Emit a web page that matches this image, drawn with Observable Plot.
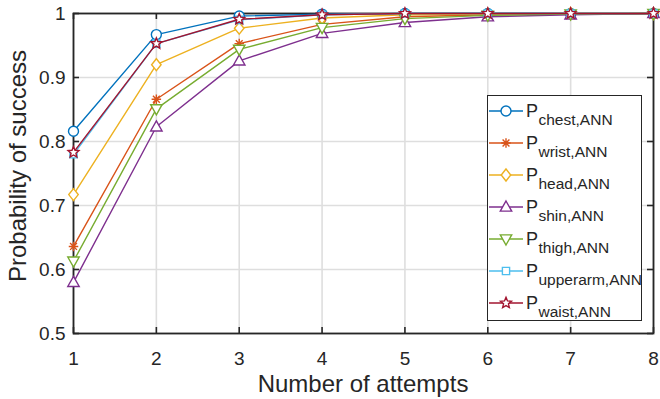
<!DOCTYPE html>
<html>
<head>
<meta charset="utf-8">
<script src="https://cdn.jsdelivr.net/npm/d3@7"></script>
<script src="https://cdn.jsdelivr.net/npm/@observablehq/plot@0.6"></script>
<style>
  body { margin: 0; background: #fff; }
  #wrap { position: relative; width: 660px; height: 399px; font-family: "Liberation Sans", Arial, Helvetica, sans-serif; }
  #legend { position: absolute; left: 0; top: 0; pointer-events: none; }
</style>
</head>
<body>
<div id="wrap"></div>
<script>
// ---- data ----
const attempts = [1, 2, 3, 4, 5, 6, 7, 8];
const chest    = [0.816, 0.967, 0.996, 0.999, 1.000, 1.000, 1.000, 1.000];
const wrist    = [0.636, 0.866, 0.953, 0.983, 0.995, 0.998, 0.999, 1.000];
const head     = [0.717, 0.920, 0.977, 0.993, 0.998, 0.999, 1.000, 1.000];
const shin     = [0.580, 0.823, 0.926, 0.969, 0.986, 0.995, 0.998, 1.000];
const thigh    = [0.613, 0.851, 0.944, 0.978, 0.992, 0.997, 0.999, 1.000];
const upperarm = [0.780, 0.953, 0.990, 0.998, 1.000, 1.000, 1.000, 1.000];
const waist    = [0.783, 0.953, 0.991, 0.998, 1.000, 1.000, 1.000, 1.000];
const seriesNames = ["chest", "wrist", "head", "shin", "thigh", "upperarm", "waist"];
const seriesValues = [chest, wrist, head, shin, thigh, upperarm, waist];
const xTicks = [1, 2, 3, 4, 5, 6, 7, 8];
const yTicks = [0.5, 0.6, 0.7, 0.8, 0.9, 1];
const yTickLabels = ["0.5", "0.6", "0.7", "0.8", "0.9", "1"];
const xLabel = "Number of attempts";
const yLabel = "Probability of success";

// ---- styles ----
const colors = ["#0072BD", "#D95319", "#EDB120", "#7E2F8E", "#77AC30", "#4DBEEE", "#A2142F"];
const ink = "#262626";

function poly(ctx, pts) {
  ctx.moveTo(pts[0][0], pts[0][1]);
  for (let i = 1; i < pts.length; i++) ctx.lineTo(pts[i][0], pts[i][1]);
  ctx.closePath();
}
const symCircle = { draw(ctx, size) { const r = Math.sqrt(size / Math.PI); ctx.moveTo(r, 0); ctx.arc(0, 0, r, 0, 2 * Math.PI); } };
const symAsterisk = { draw(ctx, size) {
  const r = Math.sqrt(size / Math.PI) * 0.95, d = r * 0.72;
  ctx.moveTo(-r, 0); ctx.lineTo(r, 0);
  ctx.moveTo(0, -r); ctx.lineTo(0, r);
  ctx.moveTo(-d, -d); ctx.lineTo(d, d);
  ctx.moveTo(-d, d); ctx.lineTo(d, -d);
} };
const symDiamond = { draw(ctx, size) { const r = Math.sqrt(size / Math.PI); poly(ctx, [[0, -r * 1.2], [r * 0.95, 0], [0, r * 1.2], [-r * 0.95, 0]]); } };
const symUp = { draw(ctx, size) { const r = Math.sqrt(size / Math.PI); poly(ctx, [[0, -r * 1.15], [r * 1.1, r * 0.8], [-r * 1.1, r * 0.8]]); } };
const symDown = { draw(ctx, size) { const r = Math.sqrt(size / Math.PI); poly(ctx, [[0, r * 1.15], [r * 1.1, -r * 0.8], [-r * 1.1, -r * 0.8]]); } };
const symSquare = { draw(ctx, size) { const r = Math.sqrt(size / Math.PI) * 0.72; poly(ctx, [[-r, -r], [r, -r], [r, r], [-r, r]]); } };
const symStar = { draw(ctx, size) {
  const R = Math.sqrt(size / Math.PI) * 1.1, ri = R * 0.45, pts = [];
  for (let k = 0; k < 10; k++) {
    const a = -Math.PI / 2 + k * Math.PI / 5, rr = k % 2 ? ri : R;
    pts.push([rr * Math.cos(a), rr * Math.sin(a)]);
  }
  poly(ctx, pts);
} };
const symbols = [symCircle, symAsterisk, symDiamond, symUp, symDown, symSquare, symStar];
const radii = [5, 5, 5, 5.2, 5.2, 5, 5.2];

const rows = [];
seriesNames.forEach((name, s) => attempts.forEach((a, i) => rows.push({ series: name, s, x: a, y: seriesValues[s][i] })));

const marks = [
  Plot.gridX(xTicks, { stroke: "#dedede", strokeOpacity: 1, strokeWidth: 1.6 }),
  Plot.gridY(yTicks, { stroke: "#dedede", strokeOpacity: 1, strokeWidth: 1.6 }),
  Plot.frame({ stroke: ink, strokeWidth: 1.8 }),
  // inward tick marks
  Plot.tickX(xTicks, { x: d => d, stroke: ink, strokeWidth: 1.6, insetTop: 314 }),
  Plot.tickX(xTicks, { x: d => d, stroke: ink, strokeWidth: 1.6, insetBottom: 314 }),
  Plot.tickY(yTicks, { y: d => d, stroke: ink, strokeWidth: 1.6, insetRight: 574 }),
  Plot.tickY(yTicks, { y: d => d, stroke: ink, strokeWidth: 1.6, insetLeft: 574 }),
  Plot.axisX(xTicks, { tickSize: 0, tickPadding: 18, fontSize: 19, color: ink, label: null, tickFormat: d => String(d) }),
  Plot.axisY(yTicks, { tickSize: 0, tickPadding: 8, fontSize: 19, color: ink, label: null, tickFormat: (d, i) => yTickLabels[i] })
];
seriesNames.forEach((name, s) => {
  const data = rows.filter(r => r.s === s);
  marks.push(Plot.line(data, { x: "x", y: "y", stroke: colors[s], strokeWidth: 1.4 }));
  marks.push(Plot.dot(data, { x: "x", y: "y", stroke: colors[s], fill: s === 1 ? "none" : "white", strokeWidth: 1.4, r: radii[s], symbol: symbols[s] }));
});

const chart = Plot.plot({
  width: 660, height: 399,
  marginLeft: 73, marginRight: 7, marginTop: 13, marginBottom: 66,
  style: { fontFamily: '"Liberation Sans", Arial, Helvetica, sans-serif', background: "white", overflow: "visible" },
  x: { domain: [1, 8] },
  y: { domain: [0.5, 1] },
  marks
});
const wrap = document.getElementById("wrap");
wrap.appendChild(chart);

// axis titles (attached to the plot's SVG)
const svg = d3.select(chart);
svg.append("text").attr("x", 363).attr("y", 392).attr("text-anchor", "middle")
  .attr("font-size", 24).attr("fill", ink).text(xLabel);
svg.append("text").attr("transform", "translate(26,166) rotate(-90)").attr("text-anchor", "middle")
  .attr("font-size", 24).attr("fill", ink).text(yLabel);

// legend
const lg = d3.select(wrap).append("svg").attr("id", "legend").attr("width", 660).attr("height", 399)
  .style("font-family", '"Liberation Sans", Arial, Helvetica, sans-serif');
lg.append("rect").attr("x", 487.5).attr("y", 95.5).attr("width", 154).attr("height", 225)
  .attr("fill", "white").attr("stroke", ink).attr("stroke-width", 1);
seriesNames.forEach((name, s) => {
  const cy = 111 + s * 32;
  const g = lg.append("g");
  g.append("line").attr("x1", 489).attr("x2", 523).attr("y1", cy).attr("y2", cy).attr("stroke", colors[s]).attr("stroke-width", 1.4);
  g.append("path").attr("transform", `translate(506,${cy})`)
    .attr("d", d3.symbol(symbols[s], Math.PI * radii[s] * radii[s])())
    .attr("stroke", colors[s]).attr("stroke-width", 1.4).attr("fill", s === 1 ? "none" : "white");
  const t = g.append("text").attr("x", 526).attr("y", cy + 5.5).attr("fill", ink).attr("font-size", 18);
  t.append("tspan").text("P");
  t.append("tspan").attr("x", 538.5).attr("y", cy + 14).attr("font-size", 15.5).text(name + ",ANN");
});
</script>
</body>
</html>
